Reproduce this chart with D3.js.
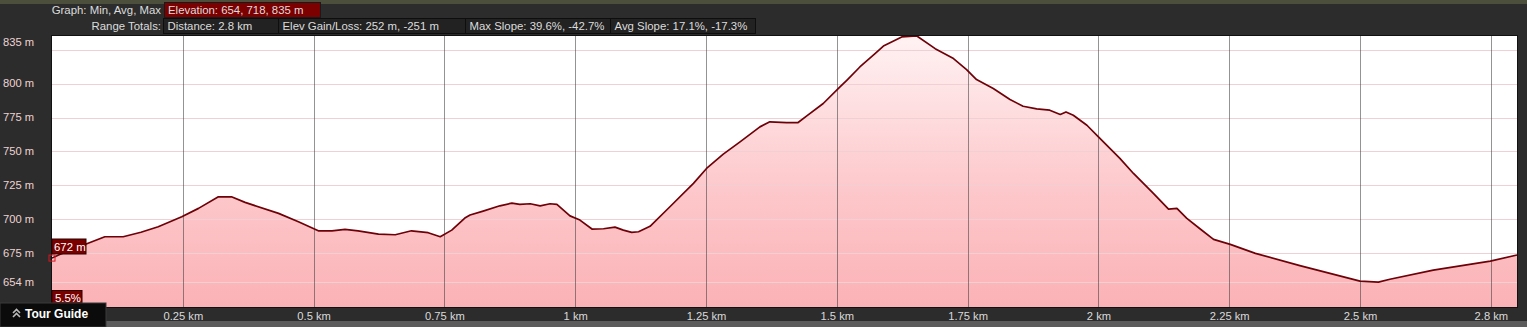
<!DOCTYPE html>
<html><head><meta charset="utf-8">
<script src="https://cdn.jsdelivr.net/npm/d3@7"></script>
<style>
html,body{margin:0;padding:0;background:#2c2c2c;}
svg{display:block;font-family:"Liberation Sans",Arial,sans-serif;}
</style></head>
<body>
<svg id="c" width="1527" height="327"></svg>
<script>
// ---- data ----
const distKm = [0.000,0.020,0.069,0.101,0.136,0.170,0.203,0.248,0.280,0.318,0.343,0.369,0.433,0.471,0.509,0.535,0.560,0.585,0.624,0.656,0.687,0.719,0.742,0.764,0.789,0.799,0.824,0.856,0.879,0.894,0.914,0.933,0.952,0.965,0.990,1.009,1.032,1.054,1.076,1.092,1.108,1.121,1.143,1.181,1.226,1.251,1.283,1.315,1.353,1.372,1.404,1.426,1.442,1.474,1.506,1.519,1.544,1.573,1.589,1.624,1.653,1.688,1.723,1.748,1.767,1.799,1.831,1.856,1.882,1.907,1.927,1.938,1.952,1.978,2.000,2.041,2.067,2.105,2.134,2.150,2.169,2.194,2.220,2.252,2.300,2.385,2.500,2.535,2.557,2.640,2.749,2.800];
const elevM  = [671.5,675.0,682.4,687.2,687.2,690.5,694.6,701.9,708.1,716.6,716.6,712.5,704.4,698.2,691.6,691.6,692.6,691.6,689.2,688.7,691.6,690.2,687.2,692.1,701.0,703.2,706.1,710.0,712.0,711.0,711.5,710.0,711.5,711.0,702.6,699.5,692.9,693.1,694.3,692.1,690.4,690.9,694.9,709.3,726.5,737.5,748.0,757.1,768.1,771.8,771.3,771.3,776.0,785.3,797.5,802.4,812.2,822.1,827.6,834.3,835.0,825.7,818.4,810.3,802.9,796.3,788.2,783.3,781.3,780.4,777.2,779.1,776.7,769.3,760.7,744.9,733.8,719.1,707.6,708.1,700.7,693.1,685.3,681.6,675.0,666.0,654.6,653.8,655.9,662.7,669.3,673.8];
const xTickValues = [0.25,0.5,0.75,1,1.25,1.5,1.75,2,2.25,2.5,2.75];
const xTickLabels = ["0.25 km","0.5 km","0.75 km","1 km","1.25 km","1.5 km","1.75 km","2 km","2.25 km","2.5 km","2.8 km"];
const yGridValues = [654,675,700,725,750,775,800,825];
const yLabelValues = [654,675,700,725,750,775,800,835];
const yLabelTexts = ["654 m","675 m","700 m","725 m","750 m","775 m","800 m","835 m"];
const headerRow1Label = "Graph: Min, Avg, Max";
const headerRow1Box = "Elevation: 654, 718, 835 m";
const headerRow2Label = "Range Totals:";
const headerRow2Boxes = ["Distance: 2.8 km","Elev Gain/Loss: 252 m, -251 m","Max Slope: 39.6%, -42.7%","Avg Slope: 17.1%, -17.3%"];
const startLabel = "672 m";
const slopeLabel = "5.5%";
const tourGuide = "Tour Guide";

// ---- layout ----
const L = 52, R = 1517, T = 36, B = 307;
const svg = d3.select("#c");
const x = d3.scaleLinear().domain([0, 2.8]).range([L, R]);
const y = d3.scaleLinear().domain([635.5, 835]).range([B, T]);

// background
svg.append("rect").attr("width",1527).attr("height",327).attr("fill","#2c2c2c");
svg.append("rect").attr("x",0).attr("y",0).attr("width",1527).attr("height",4).attr("fill","#4b4f3c");
svg.append("rect").attr("x",0).attr("y",321).attr("width",1527).attr("height",6).attr("fill","#5c5c5c");

// header
const hdr = svg.append("g").attr("font-size",11.4).attr("fill","#dcdcdc");
hdr.append("text").attr("x",161).attr("y",14).attr("text-anchor","end").text(headerRow1Label);
hdr.append("rect").attr("x",164.5).attr("y",2.5).attr("width",156).attr("height",15).attr("fill","#7d0000").attr("stroke","#1a1a1a");
hdr.append("text").attr("x",168).attr("y",14).text(headerRow1Box);
hdr.append("text").attr("x",161).attr("y",30).attr("text-anchor","end").text(headerRow2Label);
const boxEdges = [163.5,278.5,465.5,610.5,755.5];
headerRow2Boxes.forEach((t,i)=>{
  hdr.append("rect").attr("x",boxEdges[i]).attr("y",18.5).attr("width",boxEdges[i+1]-boxEdges[i]).attr("height",15)
    .attr("fill","#222").attr("stroke","#0e0e0e");
  hdr.append("text").attr("x",boxEdges[i]+4).attr("y",30).text(t);
});

// plot background
svg.append("rect").attr("x",L).attr("y",T).attr("width",R-L).attr("height",B-T).attr("fill","#ffffff");

// gradient
const defs = svg.append("defs");
const grad = defs.append("linearGradient").attr("id","fillg").attr("gradientUnits","userSpaceOnUse")
  .attr("x1",0).attr("y1",T).attr("x2",0).attr("y2",B);
grad.append("stop").attr("offset","0%").attr("stop-color","#fff2f3");
grad.append("stop").attr("offset","55%").attr("stop-color","#fdc9cc");
grad.append("stop").attr("offset","100%").attr("stop-color","#fbb2b6");

const pts = distKm.map((d,i)=>[d, elevM[i]]);
const area = d3.area().x(d=>x(d[0])).y0(B).y1(d=>y(d[1]));
const line = d3.line().x(d=>x(d[0])).y(d=>y(d[1]));

svg.append("path").datum(pts).attr("d",area).attr("fill","url(#fillg)");

// grid lines (constant light pink, over fill)
svg.append("g").selectAll("line").data(yGridValues).join("line")
  .attr("x1",L).attr("x2",R).attr("y1",d=>Math.round(y(d))+0.5).attr("y2",d=>Math.round(y(d))+0.5)
  .attr("stroke","#f1d0d3").attr("stroke-width",1);
svg.append("g").selectAll("line").data(xTickValues).join("line")
  .attr("x1",d=>Math.round(x(d))+0.5).attr("x2",d=>Math.round(x(d))+0.5).attr("y1",T).attr("y2",B)
  .attr("stroke","#3a3a3a").attr("stroke-opacity",0.55).attr("stroke-width",1);

// profile line
svg.append("path").datum(pts).attr("d",line).attr("fill","none").attr("stroke","#6e0008").attr("stroke-width",1.7).attr("stroke-linejoin","round");

// plot border
svg.append("rect").attr("x",L-0.5).attr("y",T-0.5).attr("width",R-L+1).attr("height",B-T+1).attr("fill","none").attr("stroke","#111").attr("stroke-width",1);

// y labels
svg.append("g").attr("font-size",11.2).attr("fill","#ecd3d3").selectAll("text").data(yLabelValues).join("text")
  .attr("x",3).attr("y",d=>Math.max(y(d),42)).attr("dy","0.35em").text((d,i)=>yLabelTexts[i]);

// x axis labels
const xAxis = d3.axisBottom(x).tickValues(xTickValues).tickFormat((d,i)=>xTickLabels[i]).tickSize(0).tickPadding(5);
const gx = svg.append("g").attr("transform",`translate(0,${B})`).call(xAxis);
gx.select(".domain").remove();
gx.selectAll("text").attr("fill","#dadada").attr("font-size",11.2).attr("font-family","Liberation Sans, Arial, sans-serif");

// start marker + label
svg.append("rect").attr("x",x(0)-3).attr("y",y(elevM[0])-3).attr("width",6).attr("height",6).attr("fill","none").attr("stroke","#d8141e").attr("stroke-width",1);
svg.append("rect").attr("x",52).attr("y",239).attr("width",34).attr("height",15).attr("fill","#7a0000").attr("stroke","#2a0000");
svg.append("text").attr("x",54).attr("y",250.5).attr("font-size",11.4).attr("fill","#ffffff").text(startLabel);
svg.append("rect").attr("x",52).attr("y",290.5).attr("width",30).attr("height",15).attr("fill","#7a0000").attr("stroke","#2a0000");
svg.append("text").attr("x",55).attr("y",302).attr("font-size",11.4).attr("fill","#ffffff").text(slopeLabel);

// tour guide
svg.append("rect").attr("x",0).attr("y",303).attr("width",106).attr("height",24).attr("fill","#0b0b0b").attr("stroke","#3a3a3a");
svg.append("path").attr("d","M13,313 L16.5,309.5 L20,313 M13,317 L16.5,313.5 L20,317").attr("fill","none").attr("stroke","#bbb").attr("stroke-width",1.6);
svg.append("text").attr("x",25).attr("y",318).attr("font-size",12).attr("font-weight","bold").attr("fill","#ffffff").text(tourGuide);
</script>
</body></html>
